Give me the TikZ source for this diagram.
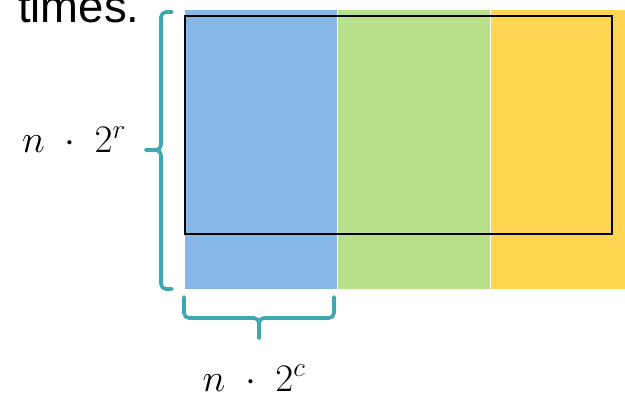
\RequirePackage{fix-cm}
\documentclass[tikz,border=0pt]{standalone}
\usepackage{fontspec}
\newfontfamily\arialfont{Liberation Sans}
\definecolor{cblue}{RGB}{134,183,230}
\definecolor{cgreen}{RGB}{185,224,138}
\definecolor{cyellow}{RGB}{255,213,82}
\definecolor{cteal}{RGB}{64,166,176}
\tikzset{
  cell/.style={inner sep=0pt, outer sep=0pt, anchor=north west, minimum height=279pt},
  winbox/.style={draw=black, line width=2.4pt, inner sep=0pt, anchor=north west, minimum width=427pt, minimum height=218pt},
  bracepath/.style={draw=cteal, line width=3.6pt, rounded corners=5pt, line cap=round},
  mlabel/.style={inner sep=0pt, anchor=base, font=\fontsize{39}{42}\selectfont}
}
\begin{document}
\begin{tikzpicture}[x=1pt,y=-1pt]
\useasboundingbox (0,0) rectangle (625,396);
\node[anchor=base west, inner sep=0pt, font=\arialfont\fontsize{45.5}{50}\selectfont] (times) at (18,23) {times.};
\node[cell, fill=cblue, minimum width=152pt] (b1) at (185,10) {};
\node[cell, fill=cgreen, minimum width=152pt] (b2) at (338,10) {};
\node[cell, fill=cyellow, minimum width=140pt] (b3) at (491,10) {};
\node[winbox] (win) at (184,15) {};
% left brace
\coordinate (ltop) at (172,12);
\coordinate (lbot) at (172,289);
\coordinate (ltip) at (146,150);
\draw[bracepath] (ltop) -- (161,12) -- (161,150) -- (ltip);
\draw[bracepath] (lbot) -- (161,289) -- (161,150) -- (ltip);
% bottom brace
\coordinate (bl) at (184,297);
\coordinate (br) at (334,297);
\coordinate (btip) at (259,338);
\draw[bracepath] (bl) -- (184,318) -- (259,318) -- (btip);
\draw[bracepath] (br) -- (334,318) -- (259,318) -- (btip);
\node[mlabel] (lr) at (74,153) {$n\;\cdot\;2^{r}$};
\node[mlabel] (lc) at (254,391) {$n\;\cdot\;2^{c}$};
\end{tikzpicture}
\end{document}
